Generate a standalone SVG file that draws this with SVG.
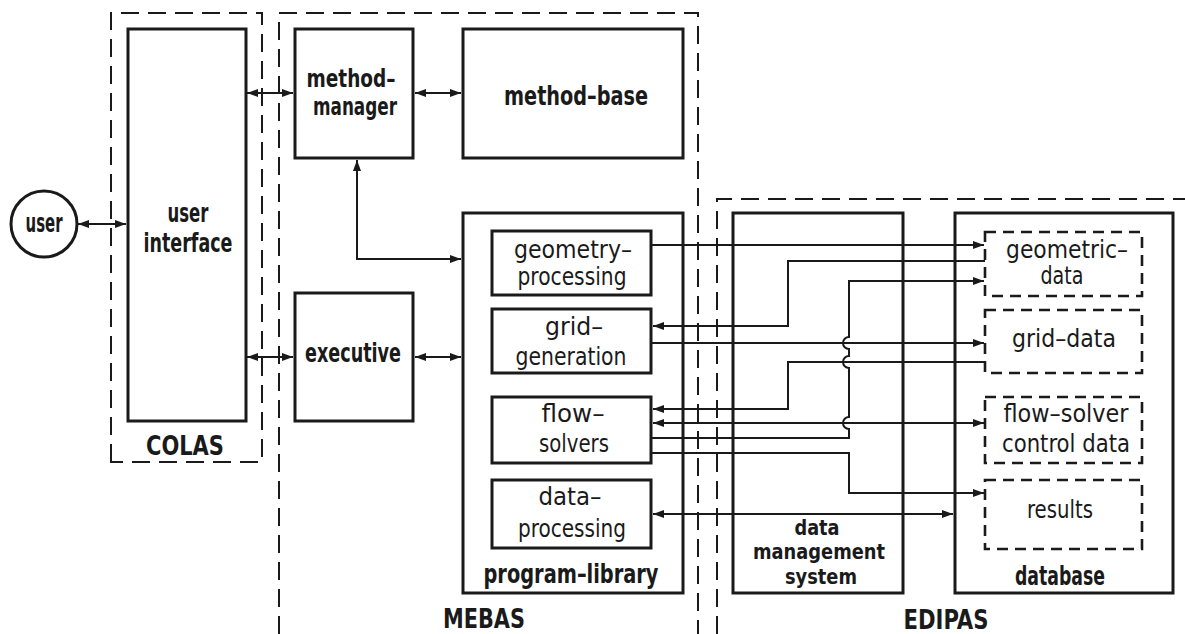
<svg xmlns="http://www.w3.org/2000/svg" width="1185" height="634" viewBox="0 0 1185 634">
<style>
.box{fill:none;stroke:#1a1a1a;stroke-width:3}
.grp{fill:none;stroke:#1a1a1a;stroke-width:2;stroke-dasharray:18 9}
.store{fill:none;stroke:#1a1a1a;stroke-width:2.6;stroke-dasharray:11 7}
.ln{fill:none;stroke:#1a1a1a;stroke-width:2}
.b{font-family:"DejaVu Sans Condensed","DejaVu Sans","Liberation Sans",sans-serif;font-weight:bold;font-size:26px;fill:#1a1a1a;text-anchor:middle}
.m{font-family:"DejaVu Sans Condensed","DejaVu Sans","Liberation Sans",sans-serif;font-weight:bold;font-size:21px;fill:#1a1a1a;text-anchor:middle}
.r{font-family:"DejaVu Sans Condensed","DejaVu Sans","Liberation Sans",sans-serif;font-size:24px;fill:#1a1a1a;text-anchor:middle}
.g{font-family:"DejaVu Sans Condensed","DejaVu Sans","Liberation Sans",sans-serif;font-weight:bold;font-size:27px;fill:#1a1a1a;text-anchor:middle}
</style>
<defs>
<marker id="ah" markerUnits="userSpaceOnUse" markerWidth="12" markerHeight="10" refX="11" refY="5" orient="auto-start-reverse">
<path d="M0,1 L11,5 L0,9 z" fill="#1a1a1a"/>
</marker>
</defs>
<rect width="1185" height="634" fill="#ffffff"/>

<g id="COLAS">
<path class="grp" d="M111,462 V13 H262 V462 Z"/>
<text class="g" x="185" y="455" textLength="78" lengthAdjust="spacingAndGlyphs">COLAS</text>
</g>
<g id="MEBAS">
<path class="grp" d="M279,634 V13 H698 V634"/>
<text class="g" x="484" y="628" textLength="82" lengthAdjust="spacingAndGlyphs">MEBAS</text>
</g>
<g id="EDIPAS">
<path class="grp" d="M717,634 V199 H1185"/>
<text class="g" x="946" y="629" textLength="85" lengthAdjust="spacingAndGlyphs">EDIPAS</text>
</g>

<g id="user">
<circle class="box" cx="44" cy="224" r="33"/>
<text class="b" x="44" y="232" textLength="37" lengthAdjust="spacingAndGlyphs">user</text>
</g>
<g id="user-interface">
<rect class="box" x="128" y="29" width="118" height="392"/>
<text class="b" x="188" y="222" textLength="41" lengthAdjust="spacingAndGlyphs">user</text>
<text class="b" x="188" y="252" textLength="89" lengthAdjust="spacingAndGlyphs">interface</text>
</g>
<g id="method-manager">
<rect class="box" x="295" y="29" width="118" height="129"/>
<text class="b" x="351" y="87" textLength="89" lengthAdjust="spacingAndGlyphs" style="font-size:25px">method–</text>
<text class="b" x="355" y="115" textLength="84" lengthAdjust="spacingAndGlyphs" style="font-size:25px">manager</text>
</g>
<g id="method-base">
<rect class="box" x="463" y="29" width="220" height="129"/>
<text class="b" x="576" y="105" textLength="144" lengthAdjust="spacingAndGlyphs">method–base</text>
</g>
<g id="executive">
<rect class="box" x="295" y="293" width="118" height="128"/>
<text class="b" x="353" y="362" textLength="96" lengthAdjust="spacingAndGlyphs">executive</text>
</g>
<g id="program-library">
<rect class="box" x="463" y="213" width="220" height="380"/>
<text class="b" x="571" y="583" textLength="175" lengthAdjust="spacingAndGlyphs">program–library</text>
</g>
<g id="geometry-processing">
<rect class="box" x="492" y="231" width="159" height="64"/>
<text class="r" x="573" y="258" textLength="118" lengthAdjust="spacingAndGlyphs">geometry–</text>
<text class="r" x="572" y="285" textLength="109" lengthAdjust="spacingAndGlyphs">processing</text>
</g>
<g id="grid-generation">
<rect class="box" x="492" y="309" width="159" height="64"/>
<text class="r" x="574" y="335" textLength="58" lengthAdjust="spacingAndGlyphs">grid–</text>
<text class="r" x="571" y="365" textLength="111" lengthAdjust="spacingAndGlyphs">generation</text>
</g>
<g id="flow-solvers">
<rect class="box" x="492" y="397" width="159" height="66"/>
<text class="r" x="573" y="422" textLength="63" lengthAdjust="spacingAndGlyphs">flow–</text>
<text class="r" x="574" y="452" textLength="70" lengthAdjust="spacingAndGlyphs">solvers</text>
</g>
<g id="data-processing">
<rect class="box" x="492" y="480" width="159" height="68"/>
<text class="r" x="570" y="505" textLength="63" lengthAdjust="spacingAndGlyphs">data–</text>
<text class="r" x="572" y="537" textLength="108" lengthAdjust="spacingAndGlyphs">processing</text>
</g>
<g id="data-management-system">
<rect class="box" x="733" y="213" width="170" height="380"/>
<text class="m" x="817" y="535" textLength="45" lengthAdjust="spacingAndGlyphs">data</text>
<text class="m" x="819" y="559" textLength="132" lengthAdjust="spacingAndGlyphs">management</text>
<text class="m" x="821" y="584" textLength="72" lengthAdjust="spacingAndGlyphs">system</text>
</g>
<g id="database">
<rect class="box" x="955" y="213" width="218" height="380"/>
<text class="b" x="1060" y="585" textLength="90" lengthAdjust="spacingAndGlyphs">database</text>
</g>
<g id="geometric-data">
<rect class="store" x="985" y="232" width="157" height="64"/>
<text class="r" x="1067" y="258" textLength="122" lengthAdjust="spacingAndGlyphs">geometric–</text>
<text class="r" x="1062" y="284" textLength="43" lengthAdjust="spacingAndGlyphs">data</text>
</g>
<g id="grid-data">
<rect class="store" x="985" y="310" width="157" height="63"/>
<text class="r" x="1064" y="347" textLength="104" lengthAdjust="spacingAndGlyphs">grid–data</text>
</g>
<g id="flow-solver-control-data">
<rect class="store" x="985" y="397" width="157" height="66"/>
<text class="r" x="1066" y="422" textLength="125" lengthAdjust="spacingAndGlyphs">flow–solver</text>
<text class="r" x="1066" y="452" textLength="128" lengthAdjust="spacingAndGlyphs">control data</text>
</g>
<g id="results">
<rect class="store" x="985" y="480" width="157" height="69"/>
<text class="r" x="1060" y="518" textLength="66" lengthAdjust="spacingAndGlyphs">results</text>
</g>

<g id="connectors">
<path class="ln" d="M78,224 H126" marker-start="url(#ah)" marker-end="url(#ah)"/>
<path class="ln" d="M247,93 H293" marker-start="url(#ah)" marker-end="url(#ah)"/>
<path class="ln" d="M415,93 H461" marker-start="url(#ah)" marker-end="url(#ah)"/>
<path class="ln" d="M357,160 V259 H461" marker-start="url(#ah)" marker-end="url(#ah)"/>
<path class="ln" d="M247,357 H293" marker-start="url(#ah)" marker-end="url(#ah)"/>
<path class="ln" d="M415,357 H461" marker-start="url(#ah)" marker-end="url(#ah)"/>
<path class="ln" d="M652,245 H984" marker-end="url(#ah)"/>
<path class="ln" d="M985,261 H788 V326 H653" marker-end="url(#ah)"/>
<path class="ln" d="M652,438 H849 V429 A6,6 0 0 1 849,417 V368 A6,6 0 0 1 849,356 V349 A6,6 0 0 1 849,337 V281 H984" marker-end="url(#ah)"/>
<path class="ln" d="M652,343 H984" marker-end="url(#ah)"/>
<path class="ln" d="M985,362 H788 V409 H653" marker-end="url(#ah)"/>
<path class="ln" d="M653,423 H984" marker-start="url(#ah)" marker-end="url(#ah)"/>
<path class="ln" d="M652,453 H849 V493 H984" marker-end="url(#ah)"/>
<path class="ln" d="M653,514 H953" marker-start="url(#ah)" marker-end="url(#ah)"/>
</g>
</svg>
